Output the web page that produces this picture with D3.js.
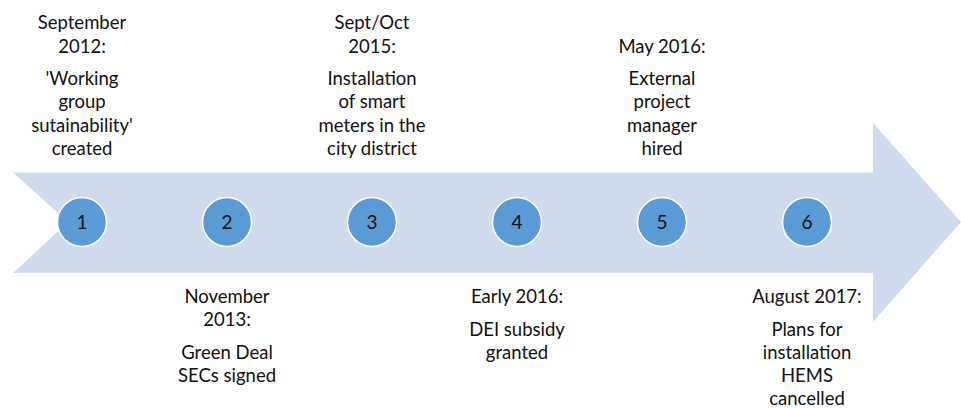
<!DOCTYPE html>
<html>
<head>
<meta charset="utf-8">
<script src="https://cdn.jsdelivr.net/npm/d3@7"></script>
<style>
  html, body { margin: 0; padding: 0; background: #ffffff; }
  svg { display: block; }
</style>
</head>
<body>
<svg id="chart" width="961" height="408"></svg>
<script>
// ---- data ----
const steps = [1, 2, 3, 4, 5, 6];
const dates = [
  ["September", "2012:"],
  ["November", "2013:"],
  ["Sept/Oct", "2015:"],
  ["Early 2016:"],
  ["May 2016:"],
  ["August 2017:"]
];
const descriptions = [
  ["'Working", "group", "sutainability'", "created"],
  ["Green Deal", "SECs signed"],
  ["Installation", "of smart", "meters in the", "city district"],
  ["DEI subsidy", "granted"],
  ["External", "project", "manager", "hired"],
  ["Plans for", "installation", "HEMS", "cancelled"]
];
const sides = ["above", "below", "above", "below", "above", "below"];

// ---- layout ----
const W = 961, H = 408;
const svg = d3.select("#chart");
const x = d3.scaleLinear().domain([1, 6]).range([82, 807]);
const midY = 222;
const bodyTop = 172.5, bodyBot = 273;
const headTop = 123, headBot = 322;
const leftX = 13, notchX = 68, headX = 873, tipX = 961;

const font = "Lato, 'Open Sans', sans-serif";
const fontSize = 18.5;
const lineH = 23.3;
const paraGap = 32.5;

// arrow
const arrowPts = [
  [leftX, bodyTop], [headX, bodyTop], [headX, headTop], [tipX, midY],
  [headX, headBot], [headX, bodyBot], [leftX, bodyBot], [notchX, midY]
];
svg.append("path")
  .attr("d", d3.line()(arrowPts) + "Z")
  .attr("fill", "#d0dcee");

// circles
const g = svg.append("g");
g.selectAll("circle").data(steps).join("circle")
  .attr("cx", d => x(d))
  .attr("cy", midY)
  .attr("r", 24.5)
  .attr("fill", "#5b9bd5")
  .attr("stroke", "#ffffff")
  .attr("stroke-width", 1.5);
g.selectAll("text.num").data(steps).join("text")
  .attr("class", "num")
  .attr("x", d => x(d))
  .attr("y", midY + 7)
  .attr("text-anchor", "middle")
  .attr("font-family", font)
  .attr("font-size", 19)
  .attr("fill", "#111")
  .text(d => d);

// text blocks
steps.forEach((s, i) => {
  const lines = [];
  const dl = dates[i], ds = descriptions[i];
  let y = 0;
  dl.forEach((t, j) => { if (j > 0) y += lineH; lines.push({t, y}); });
  ds.forEach((t, j) => { y += (j === 0 ? paraGap : lineH); lines.push({t, y}); });
  let offset;
  if (sides[i] === "above") {
    offset = 155 - y;
  } else {
    offset = 303;
  }
  svg.append("g").selectAll("text").data(lines).join("text")
    .attr("x", x(s))
    .attr("y", d => d.y + offset)
    .attr("text-anchor", "middle")
    .attr("font-family", font)
    .attr("font-size", fontSize)
    .attr("fill", "#111")
    .text(d => d.t);
});
</script>
</body>
</html>
